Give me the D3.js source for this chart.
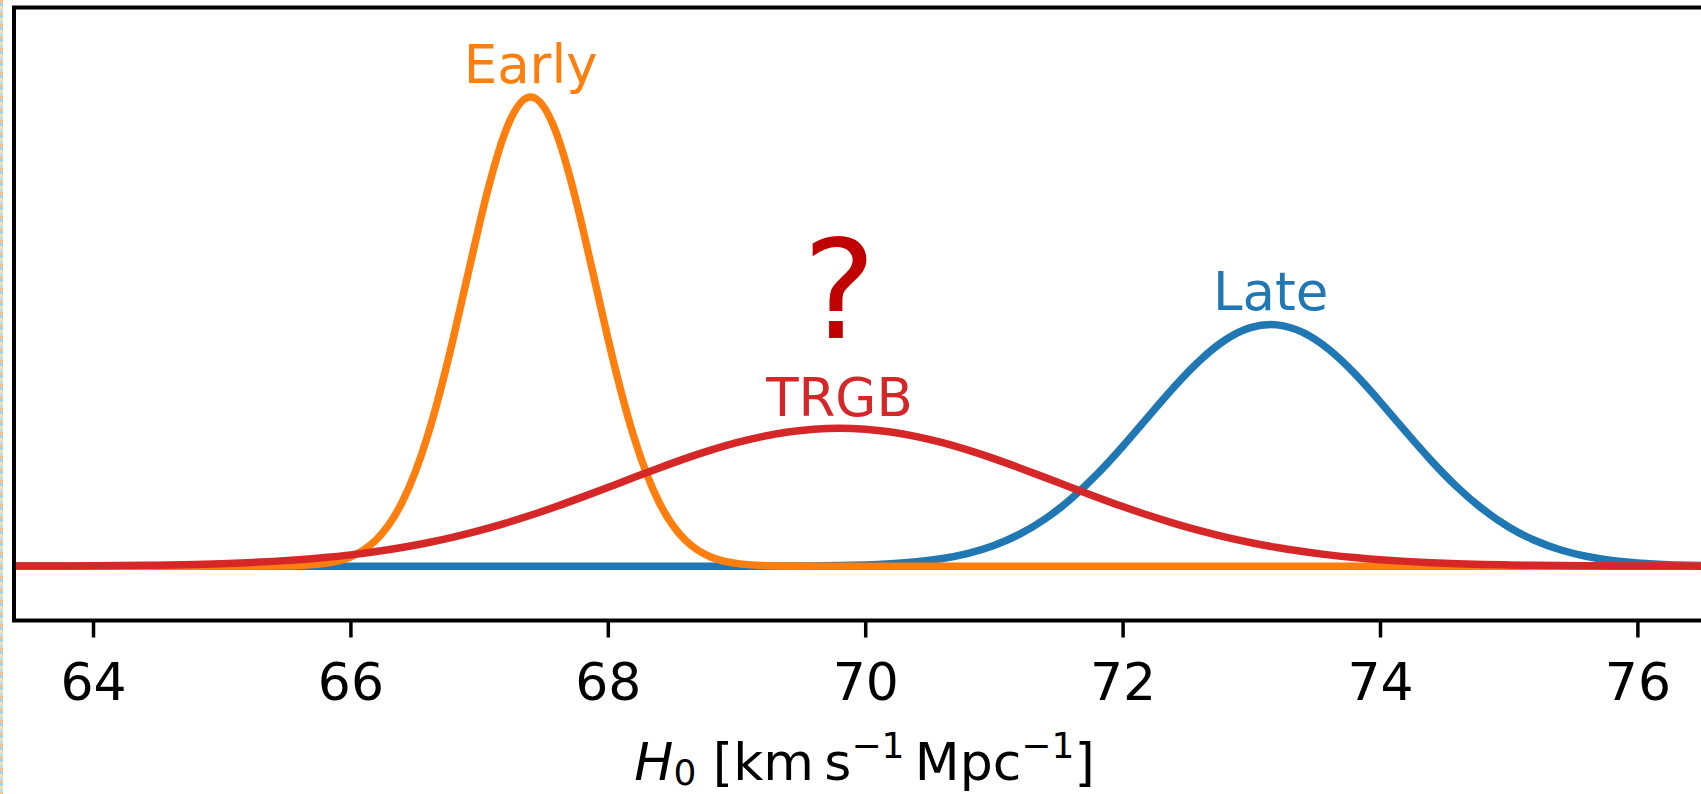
<!DOCTYPE html>
<html>
<head>
<meta charset="utf-8">
<script src="https://cdn.jsdelivr.net/npm/d3@7"></script>
<style>
  body { margin: 0; background: #fff; }
  svg { display: block; font-family: "DejaVu Sans", sans-serif; }
</style>
</head>
<body>
<svg id="chart" width="1701" height="794"></svg>
<script>
// H0 grid (km/s/Mpc) and the relative density of each curve
const h0Grid = [
  63.4, 63.6, 63.8, 64.0, 64.2, 64.4, 64.6, 64.8, 65.0, 65.2, 65.4, 65.6, 65.8,
  66.0, 66.2, 66.4, 66.6, 66.8, 67.0, 67.2, 67.4, 67.6, 67.8, 68.0, 68.2, 68.4,
  68.6, 68.8, 69.0, 69.2, 69.4, 69.6, 69.8, 70.0, 70.2, 70.4, 70.6, 70.8, 71.0,
  71.2, 71.4, 71.6, 71.8, 72.0, 72.2, 72.4, 72.6, 72.8, 73.0, 73.2, 73.4, 73.6,
  73.8, 74.0, 74.2, 74.4, 74.6, 74.8, 75.0, 75.2, 75.4, 75.6, 75.8, 76.0, 76.2,
  76.4, 76.6, 76.8, 77.0
];

const earlyValues = [
  0, 0, 0, 0, 0, 0, 0, 0, 0, 0, 0.0003, 0.0015, 0.006,
  0.0198, 0.0561, 0.1353, 0.278, 0.4868, 0.7261, 0.9231, 1.0, 0.9231, 0.7261, 0.4868, 0.278, 0.1353,
  0.0561, 0.0198, 0.006, 0.0015, 0.0003, 0, 0, 0, 0, 0, 0, 0, 0,
  0, 0, 0, 0, 0, 0, 0, 0, 0, 0, 0, 0, 0,
  0, 0, 0, 0, 0, 0, 0, 0, 0, 0, 0, 0, 0,
  0, 0, 0, 0
];

const lateValues = [
  0, 0, 0, 0, 0, 0, 0, 0, 0, 0, 0, 0, 0,
  0, 0, 0, 0, 0, 0, 0, 0, 0, 0, 0, 0, 0,
  0, 0, 0, 0.0001, 0.0003, 0.0006, 0.0013, 0.0026, 0.0051, 0.0093, 0.0163, 0.0274, 0.0442,
  0.0683, 0.1012, 0.1437, 0.1955, 0.2551, 0.3188, 0.382, 0.4385, 0.4826, 0.5089, 0.5143, 0.4982, 0.4625,
  0.4114, 0.3508, 0.2867, 0.2245, 0.1685, 0.1212, 0.0836, 0.0552, 0.035, 0.0212, 0.0123, 0.0069, 0.0037,
  0.0019, 0.0009, 0.0004, 0.0002
];

const trgbValues = [
  0.0003, 0.0004, 0.0006, 0.0009, 0.0013, 0.0019, 0.0027, 0.0039, 0.0055, 0.0076, 0.0103, 0.0139, 0.0185,
  0.0242, 0.0312, 0.0398, 0.05, 0.062, 0.0757, 0.0913, 0.1085, 0.1272, 0.1472, 0.1678, 0.1888, 0.2094,
  0.2292, 0.2473, 0.2632, 0.2762, 0.286, 0.292, 0.294, 0.292, 0.286, 0.2762, 0.2632, 0.2473, 0.2292,
  0.2094, 0.1888, 0.1678, 0.1472, 0.1272, 0.1085, 0.0913, 0.0757, 0.062, 0.05, 0.0398, 0.0312, 0.0242,
  0.0185, 0.0139, 0.0103, 0.0076, 0.0055, 0.0039, 0.0027, 0.0019, 0.0013, 0.0009, 0.0006, 0.0004, 0.0003,
  0.0002, 0.0001, 0.0001, 0
];

const xTicks = [64, 66, 68, 70, 72, 74, 76];

// label text, anchor point (h0, density) and colour, drawn in this order
const seriesNames = ["Late", "Early", "TRGB"];
const seriesColors = ["#1f77b4", "#ff7f0e", "#d62728"];
const labelAnchors = [[73.15, 0.545], [67.4, 1.03], [69.8, 0.32]];

const svg = d3.select("#chart");

const PLOT = { left: 14, right: 1715, top: 7.5, bottom: 620.5 };

const xscale = d3.scaleLinear().domain([63.386, 76.603]).range([PLOT.left, PLOT.right]);
const yscale = d3.scaleLinear().domain([-0.1157, 1.1907]).range([PLOT.bottom, PLOT.top]);

// speckled strip on the far left edge (bleed from a neighbouring panel)
const speck = svg.append("defs").append("pattern")
    .attr("id", "speck")
    .attr("width", 3)
    .attr("height", 12)
    .attr("patternUnits", "userSpaceOnUse");
[["#f7b36a", 0], ["#8cc8f0", 3], ["#f3d98a", 6], ["#a9d6f5", 9]].forEach(([c, y]) => {
    speck.append("rect").attr("x", 0).attr("y", y).attr("width", 3).attr("height", 3).attr("fill", c);
});
svg.append("rect")
    .attr("x", 0).attr("y", 0)
    .attr("width", 3).attr("height", 794)
    .attr("fill", "url(#speck)")
    .style("opacity", 0.8);

svg.append("defs").append("clipPath")
    .attr("id", "plot-clip")
    .append("rect")
    .attr("x", PLOT.left)
    .attr("y", PLOT.top)
    .attr("width", PLOT.right - PLOT.left)
    .attr("height", PLOT.bottom - PLOT.top);

const series = [lateValues, earlyValues, trgbValues];

const line = d3.line()
    .x((d, i) => xscale(h0Grid[i]))
    .y(d => yscale(d))
    .curve(d3.curveNatural);

const curves = svg.append("g").attr("clip-path", "url(#plot-clip)");

series.forEach((values, k) => {
    curves.append("path")
        .datum(values)
        .attr("fill", "none")
        .attr("stroke", seriesColors[k])
        .attr("stroke-width", 7.5)
        .attr("stroke-linejoin", "round")
        .attr("stroke-linecap", "butt")
        .attr("d", line);
});

svg.selectAll(".curve-label")
    .data(seriesNames)
    .enter()
    .append("text")
    .attr("class", "curve-label")
    .attr("x", (d, i) => xscale(labelAnchors[i][0]))
    .attr("y", (d, i) => yscale(labelAnchors[i][1]))
    .attr("text-anchor", "middle")
    .attr("font-size", 53)
    .attr("fill", (d, i) => seriesColors[i])
    .text(d => d);

svg.append("text")
    .attr("x", xscale(69.8))
    .attr("y", yscale(0.487))
    .attr("text-anchor", "middle")
    .attr("font-size", 138)
    .attr("fill", "#c00000")
    .text("?");

// axis
const xaxis = d3.axisBottom(xscale)
    .tickValues(xTicks)
    .tickSize(17)
    .tickPadding(26)
    .tickFormat(d3.format("d"));

const gx = svg.append("g")
    .attr("transform", `translate(0,${PLOT.bottom})`)
    .call(xaxis);

gx.select(".domain").remove();
gx.selectAll(".tick line").attr("stroke", "#000").attr("stroke-width", 3.5);
gx.selectAll(".tick text")
    .attr("font-size", 52)
    .attr("font-family", "DejaVu Sans")
    .attr("fill", "#000");

// spines (right one falls outside the picture)
svg.append("rect")
    .attr("x", PLOT.left)
    .attr("y", PLOT.top)
    .attr("width", PLOT.right - PLOT.left)
    .attr("height", PLOT.bottom - PLOT.top)
    .attr("fill", "none")
    .attr("stroke", "#000")
    .attr("stroke-width", 4);

// x label
const xlabel = svg.append("text")
    .attr("x", (PLOT.left + PLOT.right) / 2)
    .attr("y", 780)
    .attr("text-anchor", "middle")
    .attr("font-size", 52)
    .attr("fill", "#000")
    .style("white-space", "pre");

xlabel.append("tspan").attr("font-style", "italic").text("H");
xlabel.append("tspan").attr("font-size", 36).attr("dy", 5).text("0");
xlabel.append("tspan").attr("dy", -5).text(" [km\u2009s");
xlabel.append("tspan").attr("font-size", 36).attr("dy", -22).text("\u22121");
xlabel.append("tspan").attr("dy", 22).text("\u2009Mpc");
xlabel.append("tspan").attr("font-size", 36).attr("dy", -22).text("\u22121");
xlabel.append("tspan").attr("dy", 22).text("]");
</script>
</body>
</html>
